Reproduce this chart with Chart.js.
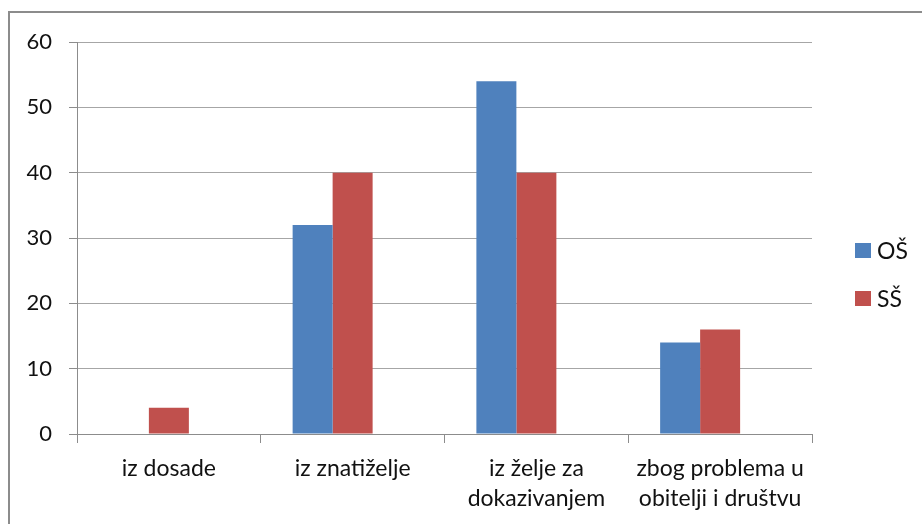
<!DOCTYPE html>
<html>
<head>
<meta charset="utf-8">
<script src="https://cdn.jsdelivr.net/npm/chart.js@4"></script>
<style>
  html, body { margin:0; padding:0; background:#fff; }
  #wrap { position:relative; width:922px; height:524px; overflow:hidden; }
  #frame { position:absolute; left:8px; top:11px; right:-10px; bottom:-10px; border-top:2px solid #8c8c8c; border-left:2px solid #8c8c8c; pointer-events:none; }
  .leg { position:absolute; left:855px; font:23px Lato, sans-serif; color:#111; display:flex; align-items:center; height:24px; }
  .leg span.box { width:16px; height:15px; margin-right:6px; display:inline-block; }
</style>
</head>
<body>
<div id="wrap">
  <canvas id="c" width="922" height="524"></canvas>
  <div id="frame"></div>
  <div class="leg" style="top:238px;"><span class="box" style="background:#4F81BD"></span>OŠ</div>
  <div class="leg" style="top:286px;"><span class="box" style="background:#C0504D"></span>SŠ</div>
</div>
<script>
// categories and series
const categories = ['iz dosade', 'iz znatiželje', ['iz želje za', 'dokazivanjem'], ['zbog problema u', 'obitelji i društvu']];
const osValues = [0, 32, 54, 14];
const ssValues = [4, 40, 40, 16];
const yTicks = [0, 10, 20, 30, 40, 50, 60];

const FONT = 'Lato, sans-serif';

new Chart(document.getElementById('c'), {
  type: 'bar',
  data: {
    labels: categories,
    datasets: [
      { label:'OŠ', data: osValues, backgroundColor:'#4F81BD', borderWidth:0 },
      { label:'SŠ', data: ssValues, backgroundColor:'#C0504D', borderWidth:0 },
      // empty slot: in the original the pair sits half a bar left of the category centre
      { label:'', data: [], backgroundColor:'rgba(0,0,0,0)', borderWidth:0 }
    ]
  },
  options: {
    responsive: false,
    animation: false,
    categoryPercentage: 0.653,
    barPercentage: 1,
    layout: { padding: { left:0, right:110, top:42, bottom:0 } },
    plugins: { legend: { display:false }, tooltip: { enabled:false } },
    scales: {
      x: {
        grid: { offset:true, drawOnChartArea:false, drawTicks:true, tickLength:9, color:'#8c8c8c' },
        border: { color:'#8c8c8c' },
        ticks: { color:'#111', padding:11, font:{ family:FONT, size:23, lineHeight:1.3 }, maxRotation:0, autoSkip:false },
        afterFit: s => { s.height = 90; }
      },
      y: {
        min: 0, max: 60,
        afterBuildTicks: s => { s.ticks = yTicks.map(v => ({ value:v })); },
        grid: { color:'#a6a6a6', tickLength:8, tickColor:'#8c8c8c' },
        border: { color:'#8c8c8c' },
        ticks: { color:'#111', padding:17, font:{ family:FONT, size:22 } },
        afterFit: s => { s.width = 77; }
      }
    }
  }
});
</script>
</body>
</html>
